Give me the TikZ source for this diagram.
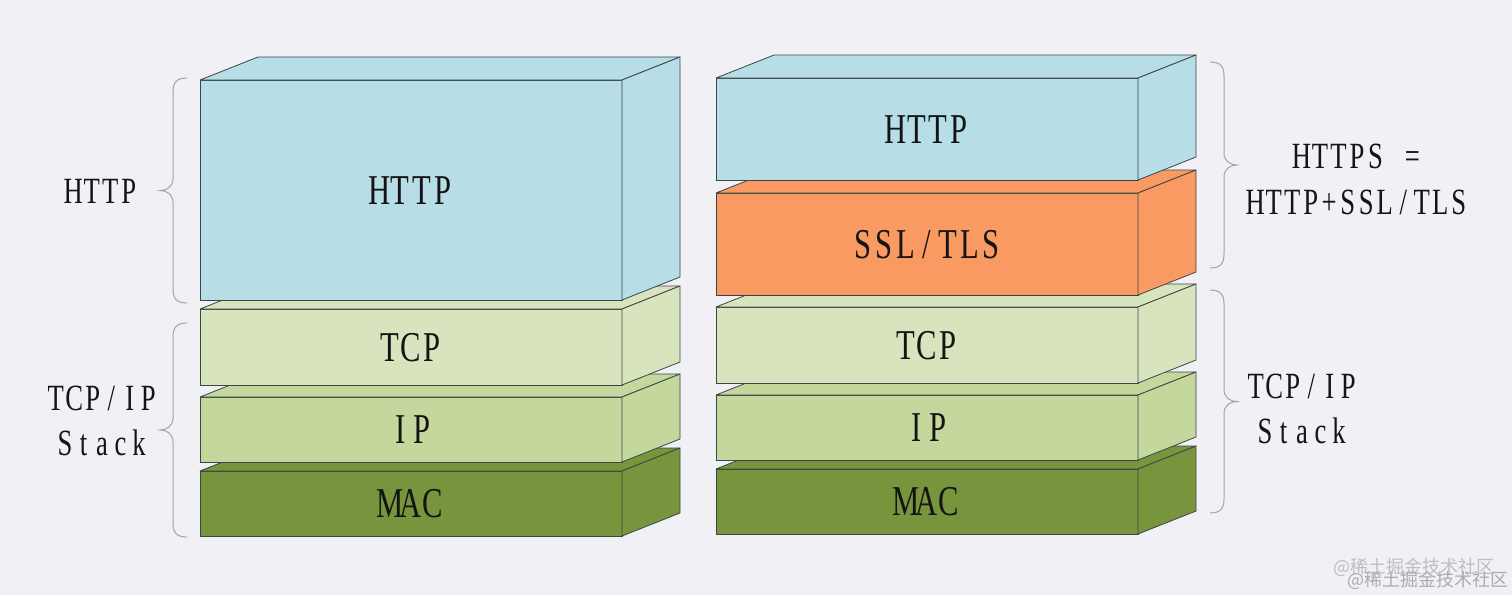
\documentclass[tikz,border=0pt]{standalone}
\usepackage{fontspec}
\setmainfont{Liberation Serif}[FakeStretch=0.72]
\newfontfamily\cjkfont{Noto Sans CJK SC}
\usetikzlibrary{calc}
\definecolor{bg}{HTML}{F1F0F5}
\definecolor{httpc}{HTML}{B7DDE7}
\definecolor{sslc}{HTML}{FA9A63}
\definecolor{tcpc}{HTML}{D8E4BD}
\definecolor{ipc}{HTML}{C4D79C}
\definecolor{macc}{HTML}{78953D}
\definecolor{edge}{HTML}{3A4646}
\definecolor{bracec}{HTML}{A3A3A8}
\definecolor{wmA}{HTML}{BDBDC2}
\definecolor{wmB}{HTML}{ABABB0}
\makeatletter
\newcommand\mono[1]{\@tfor\mc:=#1\do{\makebox[0.5em]{\mc}}}
\makeatother
\newcommand\faces[2]{%
  \draw[face, fill=#2] (#1.north west) -- ++(58,-23) -- ($(#1.north east)+(58,-23)$) -- (#1.north east) -- cycle;
  \draw[face, fill=#2] (#1.north east) -- ++(58,-23) -- ($(#1.south east)+(58,-23)$) -- (#1.south east) -- cycle;
}
\newcommand\curlyb[4]{%
  \pgfmathsetmacro\bE{#1+14*(#2)}%
  \pgfmathsetmacro\bT{#1-13*(#2)}%
  \pgfmathsetmacro\bM{(#3+#4)/2}%
  \draw[brc] (\bE,#3) .. controls ({#1+4*(#2)},#3) and (#1,{#3+4}) .. (#1,{#3+14})
    -- (#1,{\bM-12}) .. controls (#1,{\bM-4}) and ({#1-6*(#2)},\bM) .. (\bT,\bM)
    .. controls ({#1-6*(#2)},\bM) and (#1,{\bM+4}) .. (#1,{\bM+12})
    -- (#1,{#4-14}) .. controls (#1,{#4-4}) and ({#1+4*(#2)},#4) .. (\bE,#4);
}
\tikzset{
  layer/.style={draw=edge, line width=0.8pt, minimum width=422pt, outer sep=0pt, inner sep=0pt,
    text height=28pt, text depth=0pt, font=\fontsize{42.5}{50}\selectfont, text=black!92},
  face/.style={draw=edge, line width=0.8pt, line join=round},
  side/.style={font=\fontsize{37}{45}\selectfont, inner sep=0pt, anchor=base, text=black!92},
  brc/.style={draw=bracec, line width=1pt},
  wm/.style={font=\cjkfont\fontsize{18}{20}\selectfont, inner sep=0pt, anchor=west},
}
\begin{document}
\begin{tikzpicture}[x=1pt, y=-1pt]
\fill[bg] (0,0) rectangle (1512,595);
\useasboundingbox (0,0) rectangle (1512,595);

% left stack
\node[layer, fill=macc, minimum height=65pt] (lmac) at (411,503.5) {\mono{MAC}};
\faces{lmac}{macc}
\node[layer, fill=ipc, minimum height=65pt] (lip) at (411,429.5) {\mono{IP}};
\faces{lip}{ipc}
\node[layer, fill=tcpc, minimum height=76pt] (ltcp) at (411,347) {\mono{TCP}};
\faces{ltcp}{tcpc}
\node[layer, fill=httpc, minimum height=220pt] (lhttp) at (411,190) {\mono{HTTP}};
\faces{lhttp}{httpc}

% right stack
\node[layer, fill=macc, minimum height=65pt] (rmac) at (927,501.5) {\mono{MAC}};
\faces{rmac}{macc}
\node[layer, fill=ipc, minimum height=65pt] (rip) at (927,427.5) {\mono{IP}};
\faces{rip}{ipc}
\node[layer, fill=tcpc, minimum height=76pt] (rtcp) at (927,345) {\mono{TCP}};
\faces{rtcp}{tcpc}
\node[layer, fill=sslc, minimum height=102pt] (rssl) at (927,244) {\mono{SSL/TLS}};
\faces{rssl}{sslc}
\node[layer, fill=httpc, minimum height=102pt] (rhttp) at (927,129) {\mono{HTTP}};
\faces{rhttp}{httpc}

% braces
\curlyb{173}{1}{78}{303}
\curlyb{173}{1}{323}{537}
\curlyb{1224}{-1}{62}{268}
\curlyb{1224}{-1}{290}{513}

% side labels
\node[side] (lblhttp) at (101,203) {\mono{HTTP}};
\node[side] (lbltcpA) at (102,410) {\mono{TCP/IP}};
\node[side] (lbltcpB) at (102,455) {\mono{Stack}};
\node[side] (lblhttpsA) at (1357,168) {\mono{HTTPS}\makebox[0.5em]{}\mono{=}};
\node[side] (lblhttpsB) at (1357,214) {\mono{HTTP+SSL/TLS}};
\node[side] (rbltcpA) at (1302,398) {\mono{TCP/IP}};
\node[side] (rbltcpB) at (1302,443) {\mono{Stack}};

% watermark
\node[wm, text=wmA] (wma) at (1333,567) {@稀土掘金技术社区};
\node[wm, text=wmB] (wmb) at (1347,580) {@稀土掘金技术社区};
\end{tikzpicture}
\end{document}
